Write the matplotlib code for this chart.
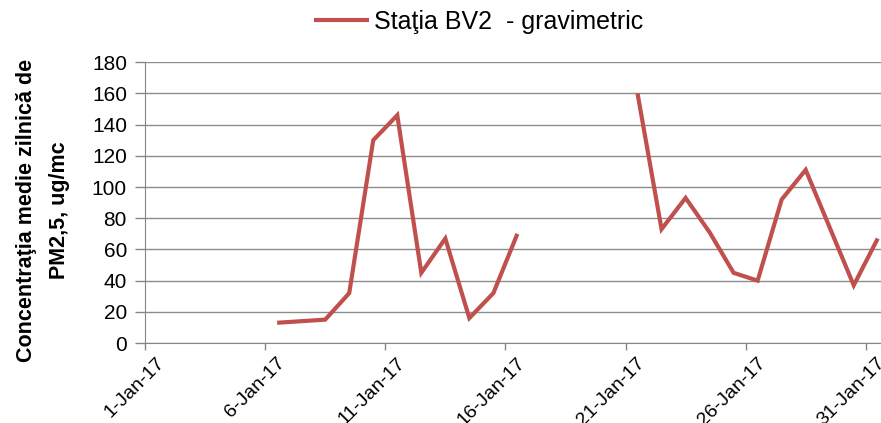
import numpy as np
import pandas as pd
import matplotlib
matplotlib.use('Agg')
import matplotlib.pyplot as plt
import matplotlib.dates as mdates
import matplotlib.transforms as mtransforms

plt.rcParams['font.family'] = ['Liberation Sans', 'DejaVu Sans']

days = pd.date_range('2017-01-06', '2017-01-31', freq='D')
values = [13, 14, 15, 32, 130, 146, 45, 67, 16, 32, 70,
          np.nan, np.nan, np.nan, np.nan,
          160, 73, 93, 71, 45, 40, 92, 111, 74, 37, 67]
series_name = 'Staţia BV2  - gravimetric'
tick_days = pd.date_range('2017-01-01', '2017-01-31', freq='5D')
y_ticks = list(range(0, 181, 20))

fig = plt.figure(figsize=(8.81, 4.23), dpi=100)
ax = fig.add_axes([0.1646, 0.189, 0.835, 0.664])

# points sit in the middle of each day, like the Excel date axis
xpos = days + pd.Timedelta(hours=12)
ax.plot(xpos, values, color='#C0504D', lw=3, label=series_name,
        solid_joinstyle='miter', solid_capstyle='butt')

start = pd.Timestamp('2017-01-01')
ax.set_xlim(start, start + pd.Timedelta(days=30.62))
ax.set_ylim(0, 180)
ax.set_yticks(y_ticks)
ax.set_xticks(tick_days)
ax.xaxis.set_major_formatter(mdates.DateFormatter('%-d-%b-%y'))

ax.tick_params(axis='y', labelsize=15, length=7, width=1, pad=6,
               colors='#868686', labelcolor='black')
ax.tick_params(axis='x', labelsize=14, length=5, width=1, pad=3,
               colors='#868686', labelcolor='black')

shift = mtransforms.ScaledTranslation(11 / 100, 0, fig.dpi_scale_trans)
for lbl in ax.get_xticklabels():
    lbl.set_rotation(45)
    lbl.set_ha('right')
    lbl.set_rotation_mode('anchor')
    lbl.set_transform(lbl.get_transform() + shift)

ax.grid(axis='y', color='#8c8c8c', lw=1)
ax.set_axisbelow(True)
for s in ['top', 'right']:
    ax.spines[s].set_visible(False)
ax.spines['left'].set_color('#868686')
ax.spines['bottom'].set_color('#868686')

ax.set_ylabel('Concentraţia medie zilnică de\nPM2,5, ug/mc', fontsize=15.5,
              fontweight='bold', va='center', linespacing=1.75)
ax.yaxis.set_label_coords(-0.139, 0.473)

fig.legend(loc='center', bbox_to_anchor=(0.543, 0.948), frameon=False,
           fontsize=18, handlelength=2.2, handletextpad=0.2)

fig.savefig('out.png', dpi=100)
